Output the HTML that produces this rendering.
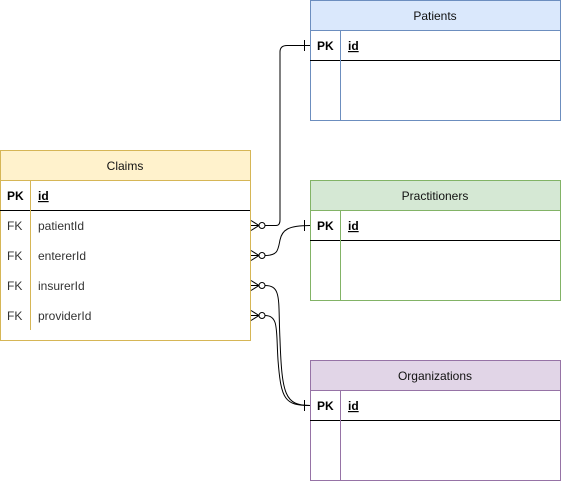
<!DOCTYPE html>
<html><head><meta charset="utf-8"><style>
html,body{margin:0;padding:0;background:#fff;}
svg{display:block;font-family:"Liberation Sans",Helvetica,Arial,sans-serif;font-size:12px;}
</style></head><body>
<svg width="561" height="481" viewBox="0 0 561 481" xmlns="http://www.w3.org/2000/svg">
<!-- Claims -->
<rect x="0.5" y="150.5" width="250" height="190" fill="#fff" stroke="#d6b656"/>
<rect x="0.5" y="150.5" width="250" height="30" fill="#fff2cc" stroke="#d6b656"/>
<text x="125" y="170" text-anchor="middle" fill="#111">Claims</text>
<line x1="0" y1="210.5" x2="250" y2="210.5" stroke="#000"/>
<line x1="30.5" y1="180" x2="30.5" y2="330" stroke="#d6b656"/>
<text x="7" y="200" font-weight="bold">PK</text>
<text x="38" y="200" font-weight="bold" text-decoration="underline">id</text>
<text x="7" y="230" fill="#333">FK</text><text x="38" y="230" fill="#333">patientId</text>
<text x="7" y="260" fill="#333">FK</text><text x="38" y="260" fill="#333">entererId</text>
<text x="7" y="290" fill="#333">FK</text><text x="38" y="290" fill="#333">insurerId</text>
<text x="7" y="320" fill="#333">FK</text><text x="38" y="320" fill="#333">providerId</text>

<g>
<rect x="310.5" y="0.5" width="250" height="120" fill="#fff" stroke="#6c8ebf"/>
<rect x="310.5" y="0.5" width="250" height="30" fill="#dae8fc" stroke="#6c8ebf"/>
<text x="435" y="20" text-anchor="middle" fill="#111">Patients</text>
<line x1="310" y1="60.5" x2="560" y2="60.5" stroke="#000"/>
<line x1="340.5" y1="30" x2="340.5" y2="120" stroke="#6c8ebf"/>
<text x="317" y="50" font-weight="bold">PK</text>
<text x="348" y="50" font-weight="bold" text-decoration="underline">id</text>
</g>
<g>
<rect x="310.5" y="180.5" width="250" height="120" fill="#fff" stroke="#82b366"/>
<rect x="310.5" y="180.5" width="250" height="30" fill="#d5e8d4" stroke="#82b366"/>
<text x="435" y="200" text-anchor="middle" fill="#111">Practitioners</text>
<line x1="310" y1="240.5" x2="560" y2="240.5" stroke="#000"/>
<line x1="340.5" y1="210" x2="340.5" y2="300" stroke="#82b366"/>
<text x="317" y="230" font-weight="bold">PK</text>
<text x="348" y="230" font-weight="bold" text-decoration="underline">id</text>
</g>
<g>
<rect x="310.5" y="360.5" width="250" height="120" fill="#fff" stroke="#9673a6"/>
<rect x="310.5" y="360.5" width="250" height="30" fill="#e1d5e7" stroke="#9673a6"/>
<text x="435" y="380" text-anchor="middle" fill="#111">Organizations</text>
<line x1="310" y1="420.5" x2="560" y2="420.5" stroke="#000"/>
<line x1="340.5" y1="390" x2="340.5" y2="480" stroke="#9673a6"/>
<text x="317" y="410" font-weight="bold">PK</text>
<text x="348" y="410" font-weight="bold" text-decoration="underline">id</text>
</g>

<g fill="none" stroke="#000" stroke-width="1">
<path d="M265 225.5 H276 Q280 225.5 280 220 V52 Q280 45.5 287 45.5 H310"/>
<path d="M265 255.5 C278 255.5 278 250 280 240 C282 230 288 225.5 310 225.5"/>
<path d="M265 285.5 C282 285.5 278 300 280 340 C282 395 285 405.5 310 405.5"/>
<path d="M265 315.5 C279 315.5 276 330 278 360 C281 400 285 405.5 310 405.5"/>
<line x1="304.5" y1="40" x2="304.5" y2="51"/>
<line x1="304.5" y1="220" x2="304.5" y2="231"/>
<line x1="304.5" y1="400" x2="304.5" y2="411"/>
<g id="cf">
<path d="M251 220.5 L259 225.5 L251 230.5 M251 225.5 H259"/>
<circle cx="262" cy="225.5" r="3" fill="#fff"/>
</g>
<use href="#cf" y="30"/>
<use href="#cf" y="60"/>
<use href="#cf" y="90"/>
</g>
</svg>
</body></html>
